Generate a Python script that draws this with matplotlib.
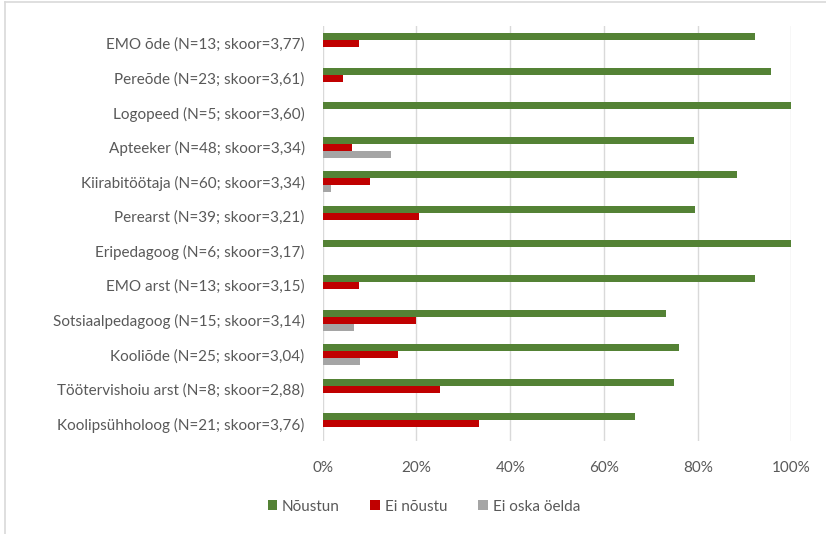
import matplotlib
matplotlib.use("Agg")
import matplotlib.pyplot as plt
import numpy as np
from matplotlib.patches import Patch
from matplotlib.lines import Line2D

plt.rcParams['font.family'] = ['Lato', 'DejaVu Sans']

categories = [
    "EMO õde (N=13; skoor=3,77)",
    "Pereõde (N=23; skoor=3,61)",
    "Logopeed (N=5; skoor=3,60)",
    "Apteeker (N=48; skoor=3,34)",
    "Kiirabitöötaja (N=60; skoor=3,34)",
    "Perearst (N=39; skoor=3,21)",
    "Eripedagoog (N=6; skoor=3,17)",
    "EMO arst (N=13; skoor=3,15)",
    "Sotsiaalpedagoog (N=15; skoor=3,14)",
    "Kooliõde (N=25; skoor=3,04)",
    "Töötervishoiu arst (N=8; skoor=2,88)",
    "Koolipsühholoog (N=21; skoor=3,76)",
]
noustun = [92.3, 95.7, 100.0, 79.2, 88.3, 79.5, 100.0, 92.3, 73.3, 76.0, 75.0, 66.7]
ei_noustu = [7.7, 4.3, 0.0, 6.25, 10.0, 20.5, 0.0, 7.7, 20.0, 16.0, 25.0, 33.3]
ei_oska = [0.0, 0.0, 0.0, 14.6, 1.7, 0.0, 0.0, 0.0, 6.7, 8.0, 0.0, 0.0]
series_names = ["Nõustun", "Ei nõustu", "Ei oska öelda"]
colors = ["#548235", "#C00000", "#A5A5A5"]
xticks = [0, 20, 40, 60, 80, 100]

text_color = "#595959"
grid_color = "#D9D9D9"

fig = plt.figure(figsize=(8.26, 5.34), dpi=100)
ax = fig.add_axes([0.3907, 0.174, 0.9582 - 0.3907, 0.951 - 0.174])

y = np.arange(len(categories))
h = 0.202
for vals, off, col in zip([noustun, ei_noustu, ei_oska], [-h, 0, h], colors):
    ax.barh(y + off, vals, height=h, color=col, edgecolor="none", zorder=3)

ax.set_ylim(len(categories) - 0.5, -0.5)
ax.set_xlim(0, 100)
ax.set_xticks(xticks)
ax.set_xticklabels([f"{t}%" for t in xticks])
ax.set_yticks(y)
ax.set_yticklabels(categories)
ax.grid(axis="x", color=grid_color, linewidth=1.0, zorder=0)
for s in ax.spines.values():
    s.set_visible(False)
ax.tick_params(axis="both", length=0, colors=text_color, labelsize=11)
ax.tick_params(axis="y", pad=13)
ax.tick_params(axis="x", pad=14)

handles = [Patch(facecolor=c, edgecolor="none") for c in colors]
fig.legend(handles, series_names, loc="center", bbox_to_anchor=(0.513, 0.051),
           ncol=3, frameon=False, fontsize=11, labelcolor=text_color,
           handlelength=0.65, handleheight=0.65, handletextpad=0.3, columnspacing=2.0)

# outer chart border (top and left edges)
fig.add_artist(Line2D([0.0064, 1.0], [0.9955, 0.9955], color=grid_color, linewidth=1.2,
                      transform=fig.transFigure))
fig.add_artist(Line2D([0.0064, 0.0064], [0.0, 0.9955], color=grid_color, linewidth=1.2,
                      transform=fig.transFigure))

fig.savefig("out.png", dpi=100)
